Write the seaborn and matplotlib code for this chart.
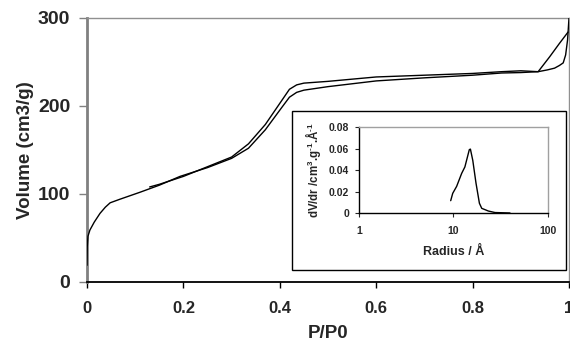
import numpy as np
import pandas as pd
import matplotlib
matplotlib.use("Agg")
import matplotlib.pyplot as plt
from matplotlib.patches import Rectangle
import seaborn as sns

# ---- data: nitrogen isotherm ----
ads_p = [0.0, 0.0005, 0.002, 0.006, 0.015, 0.027, 0.038, 0.048, 0.068, 0.11, 0.15, 0.193,
         0.25, 0.30, 0.335, 0.37, 0.405, 0.42, 0.435, 0.45, 0.50, 0.60, 0.70,
         0.80, 0.86, 0.90, 0.936, 0.955, 0.97, 0.98, 0.988, 0.993, 0.997, 1.0]
ads_v = [19, 40, 52, 59, 68, 78, 85, 90, 94, 102, 110, 120,
         130, 140.5, 152, 173, 199, 210, 215.5, 218, 222, 228.5, 232,
         235, 237.5, 238, 239, 241, 243, 246, 249, 258, 275, 300]

des_p = [0.998, 0.98, 0.96, 0.936, 0.90, 0.86, 0.80, 0.70, 0.60, 0.50, 0.45, 0.435,
         0.42, 0.405, 0.37, 0.335, 0.30, 0.25, 0.20, 0.15, 0.13]
des_v = [284, 271, 256, 239, 240, 239, 237, 235, 233, 228, 226, 224,
         219, 207, 179, 157, 142, 131, 120, 111, 108]

# ---- data: pore size distribution (inset) ----
psd_r = [9.34, 9.81, 10.8, 12.2, 13.2, 14.7, 15.1, 16.0, 17.3, 18.8, 19.9, 23.4, 27.5, 39.6]
psd_v = [0.0117, 0.0185, 0.025, 0.037, 0.043, 0.059, 0.0595, 0.049, 0.028, 0.0093,
         0.0046, 0.0021, 0.0007, 0.0003]

x_ticks = [0, 0.2, 0.4, 0.6, 0.8, 1.0]
x_labels = ["0", "0.2", "0.4", "0.6", "0.8", "1"]
y_ticks = [0, 100, 200, 300]
y_labels = ["0", "100", "200", "300"]
in_x_ticks = [1, 10, 100]
in_x_labels = ["1", "10", "100"]
in_y_ticks = [0, 0.02, 0.04, 0.06, 0.08]
in_y_labels = ["0", "0.02", "0.04", "0.06", "0.08"]

sns.set_style("ticks")
plt.rcParams['font.family'] = ['Liberation Sans', 'DejaVu Sans']
plt.rcParams['font.weight'] = 'bold'
plt.rcParams['mathtext.fontset'] = 'custom'
plt.rcParams['mathtext.rm'] = 'Liberation Sans:bold'
plt.rcParams['mathtext.bf'] = 'Liberation Sans:bold'
plt.rcParams['mathtext.default'] = 'bf'

fig = plt.figure(figsize=(5.7, 3.42), dpi=100)
ax = fig.add_axes([87/570, 1-282/342, (569-87)/570, (282-18)/342])

ads = pd.DataFrame({"p": ads_p, "v": ads_v})
des = pd.DataFrame({"p": des_p, "v": des_v})
sns.lineplot(data=ads, x="p", y="v", ax=ax, color="black", lw=1.0,
             estimator=None, sort=False, zorder=4)
sns.lineplot(data=des, x="p", y="v", ax=ax, color="black", lw=1.0,
             estimator=None, sort=False, zorder=4)

ax.set_xlim(0, 1)
ax.set_ylim(0, 300)
ax.set_xticks(x_ticks)
ax.set_xticklabels(x_labels, fontsize=12, fontweight='bold')
ax.set_yticks(y_ticks)
ax.set_yticklabels(y_labels, fontsize=14, fontweight='bold')
ax.tick_params(axis='x', direction='out', length=4, width=1, color='black', pad=10)
ax.tick_params(axis='y', direction='out', length=6, width=1, color='#808080', pad=6)
ax.set_xlabel("P/P0", fontsize=13.5, fontweight='bold', labelpad=6)
ax.set_ylabel("Volume (cm3/g)", fontsize=13.5, fontweight='bold', labelpad=3)
for s in ['top', 'right']:
    ax.spines[s].set_visible(True)
    ax.spines[s].set_color('#909090')
    ax.spines[s].set_linewidth(1.0)
ax.spines['left'].set_color('#808080')
ax.spines['left'].set_linewidth(2.0)
ax.spines['bottom'].set_color('black')
ax.spines['bottom'].set_linewidth(1.3)

# inset frame
rect = Rectangle((292/570, 1-270/342), (566-292)/570, (270-111)/342,
                 transform=fig.transFigure, facecolor='white', edgecolor='black',
                 lw=1.0, zorder=1)
fig.patches.append(rect)

axi = fig.add_axes([359/570, 1-213.3/342, (548-359)/570, (213.3-127)/342], zorder=2)
psd = pd.DataFrame({"r": psd_r, "v": psd_v})
sns.lineplot(data=psd, x="r", y="v", ax=axi, color="black", lw=1.0,
             estimator=None, sort=False)
axi.set_xscale('log')
axi.set_xlim(1, 100)
axi.set_ylim(0, 0.08)
axi.set_xticks(in_x_ticks)
axi.set_xticklabels(in_x_labels, fontsize=7.5, fontweight='bold')
axi.xaxis.set_minor_locator(matplotlib.ticker.NullLocator())
axi.set_yticks(in_y_ticks)
axi.set_yticklabels(in_y_labels, fontsize=7.5, fontweight='bold')
axi.tick_params(axis='x', direction='out', length=3, width=0.8, pad=6)
axi.tick_params(axis='y', direction='out', length=3, width=0.8, pad=4)
axi.set_xlabel("Radius / Å", fontsize=9, fontweight='bold', labelpad=7)
axi.set_ylabel(r"dV/dr /cm$^{3}$.g$^{\text{-}1}$.Å$^{\text{-}1}$",
               fontsize=8.3, fontweight='bold', labelpad=4)
for s in ['top', 'right']:
    axi.spines[s].set_visible(True)
    axi.spines[s].set_color('#a0a0a0')
    axi.spines[s].set_linewidth(1.0)
for s in ['left', 'bottom']:
    axi.spines[s].set_color('black')
    axi.spines[s].set_linewidth(1.0)

fig.savefig("out.png", dpi=100)
